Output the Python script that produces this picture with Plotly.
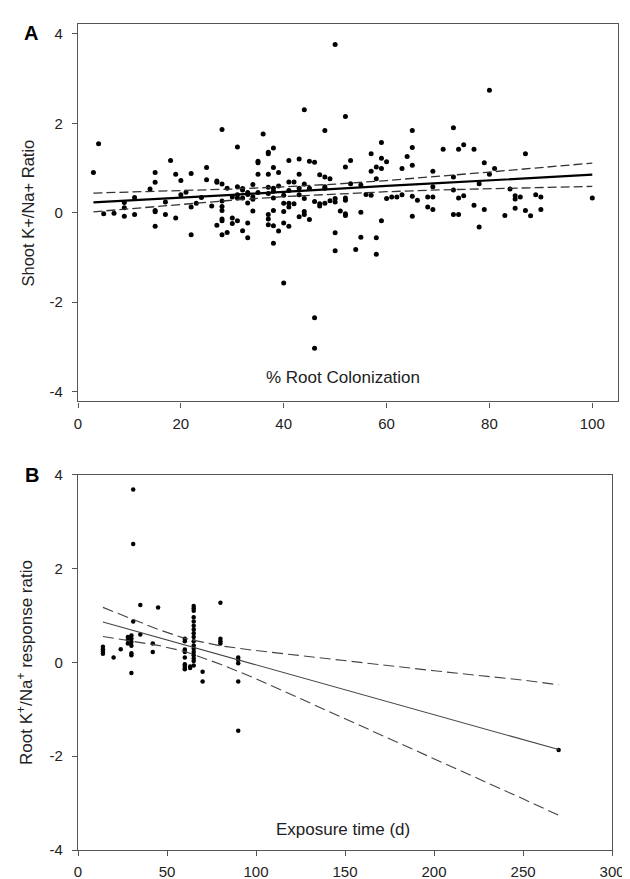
import plotly.graph_objects as go

# ---------------- Panel A data: % root colonization vs shoot K+/Na+ ratio ----------------
colonization = [3, 4, 5, 7, 9, 9, 9, 11, 11, 14, 15, 15, 15, 15, 15, 17, 17, 18, 19, 19,
                20, 20, 21, 22, 22, 22, 23, 24, 25, 25, 26, 27, 27, 27, 28, 28, 28, 28, 28, 28,
                28, 28, 29, 29, 30, 30, 30, 31, 31, 31, 31, 32, 32, 32, 32, 33, 33, 33, 33, 34,
                34, 34, 34, 35, 35, 35, 36, 37, 37, 37, 37, 37, 37, 37, 37, 38, 38, 38, 38, 38,
                38, 38, 39, 39, 39, 40, 40, 40, 40, 40, 41, 41, 41, 41, 41, 42, 42, 43, 43, 43,
                43, 43, 44, 44, 44, 44, 44, 45, 45, 46, 46, 46, 46, 47, 47, 47, 48, 48, 48, 48,
                49, 49, 50, 50, 50, 50, 50, 51, 52, 52, 52, 52, 52, 52, 53, 53, 54, 55, 55, 56,
                57, 57, 57, 58, 58, 58, 58, 59, 59, 59, 59, 60, 60, 61, 63, 63, 64, 65, 65, 65,
                65, 65, 66, 68, 68, 69, 69, 69, 69, 71, 73, 73, 73, 73, 74, 74, 74, 75, 75, 77,
                77, 78, 78, 79, 79, 80, 80, 81, 83, 84, 85, 85, 85, 86, 87, 87, 88, 89, 90, 90,
                100, 31, 33, 35, 38, 41, 45, 48, 55, 62]
shoot_ratio = [0.90, 1.54, -0.02, -0.01, 0.23, 0.11, -0.08, 0.34, -0.04, 0.53, 0.90, 0.68, 0.05, 0.02, -0.30, 0.24, -0.04, 1.17, 0.86, -0.12,
               0.72, 0.40, 0.46, 0.88, 0.13, -0.49, 0.21, 0.34, 1.01, 0.74, 0.15, 0.71, 0.68, -0.28, 1.86, 0.64, 0.26, 0.14, 0.05, -0.14,
               -0.18, -0.49, 0.55, -0.44, 0.35, -0.12, -0.24, 1.47, 0.58, 0.33, -0.18, 0.54, 0.51, 0.33, -0.40, 0.41, 0.22, -0.23, -0.56, 0.63,
               0.36, 0.30, 0.04, 1.15, 1.12, 0.86, 1.76, 1.35, 1.32, 0.86, 0.57, 0.43, -0.04, -0.14, -0.27, 1.45, 1.01, 0.55, 0.33, 0.05,
               -0.29, -0.68, 0.90, 0.60, -0.41, 0.39, 0.21, 0.03, -0.23, -1.57, 1.17, 0.69, 0.21, 0.13, -0.30, 0.69, 0.20, 1.20, 0.86, 0.55,
               0.40, -0.09, 2.30, 0.64, 0.32, 0.03, -0.04, 1.15, -0.15, 1.13, 0.25, -2.35, -3.03, 0.85, 0.20, 0.15, 1.84, 0.80, 0.55, 0.21,
               0.76, 0.27, 3.76, 0.32, 0.24, -0.45, -0.85, 0.04, 2.15, 1.02, 0.33, 0.28, -0.02, -0.06, 1.17, 0.65, -0.82, 0.01, -0.55, 0.41,
               1.32, 0.93, 0.39, 1.02, 0.76, -0.56, -0.93, 1.57, 1.22, 0.99, -0.18, 1.14, 0.32, 0.35, 0.99, 0.40, 1.26, 1.84, 1.46, 1.06,
               0.37, -0.08, 0.28, 0.35, 0.13, 0.93, 0.58, 0.35, 0.07, 1.42, 1.90, 0.80, 0.51, -0.04, 1.42, 0.33, -0.04, 1.52, 0.38, 1.42,
               0.17, 0.65, -0.32, 1.12, 0.07, 2.74, 0.86, 0.99, -0.06, 0.53, 0.38, 0.31, 0.10, 0.35, 1.32, 0.05, -0.07, 0.40, 0.35, 0.07,
               0.33, 0.40, 0.45, 0.45, 0.48, 0.50, 0.55, 0.58, 0.62, 0.35]

# Regression line and 95% confidence band
fitA_x = [3, 10, 20, 30, 40, 50, 60, 70, 80, 90, 100]
fitA_y = [0.23, 0.28, 0.34, 0.40, 0.47, 0.53, 0.60, 0.66, 0.72, 0.79, 0.85]
upA_y = [0.44, 0.46, 0.49, 0.53, 0.58, 0.64, 0.72, 0.81, 0.91, 1.01, 1.11]
loA_y = [0.02, 0.09, 0.19, 0.28, 0.36, 0.42, 0.47, 0.51, 0.54, 0.57, 0.59]

# ---------------- Panel B data: exposure time vs root K+/Na+ response ratio ----------------
exposure = ([14] * 4 + [20] + [24] + [28] * 3 + [30] * 7 + [31] * 3 + [35] * 2 + [42] * 2 + [45]
            + [60] * 9 + [63] * 2 + [65] * 17 + [70] * 2 + [80] * 4 + [90] * 5 + [270])
root_ratio = [0.33, 0.28, 0.23, 0.18,
              0.10,
              0.28,
              0.54, 0.48, 0.40,
              0.57, 0.50, 0.43, 0.35, 0.19, 0.15, -0.23,
              3.68, 2.52, 0.87,
              1.22, 0.59,
              0.40, 0.22,
              1.17,
              0.50, 0.45, 0.27, 0.22, 0.10, -0.04, -0.08, -0.12, -0.15,
              -0.09, -0.12,
              1.20, 1.15, 1.10, 0.96, 0.87, 0.78, 0.70, 0.62, 0.54, 0.45, 0.36, 0.29, 0.22, 0.15, 0.08, 0.03, -0.07,
              -0.20, -0.41,
              1.27, 0.50, 0.45, 0.40,
              0.10, 0.05, -0.02, -0.41, -1.46,
              -1.87]

fitB_x = [14, 30, 45, 60, 80, 100, 150, 200, 250, 270]
fitB_y = [0.86, 0.69, 0.53, 0.37, 0.16, -0.05, -0.59, -1.12, -1.65, -1.86]
upB_y = [1.17, 0.93, 0.70, 0.51, 0.35, 0.25, 0.03, -0.18, -0.38, -0.48]
loB_y = [0.55, 0.45, 0.36, 0.23, -0.04, -0.35, -1.20, -2.05, -2.91, -3.26]

tickA_x = [0, 20, 40, 60, 80, 100]
tickB_x = [0, 50, 100, 150, 200, 250, 300]
tick_y = [-4, -2, 0, 2, 4]
tick_y_text = ["-4", "-2", "0", "2", "4"]

FONT = "Liberation Sans, Arial, sans-serif"
AXC = "#555555"
TXT = "#222222"

fig = go.Figure()

# Panel A
fig.add_trace(go.Scatter(x=colonization, y=shoot_ratio, mode="markers",
                         marker=dict(size=5, color="black"), xaxis="x", yaxis="y", showlegend=False))
fig.add_trace(go.Scatter(x=fitA_x, y=upA_y, mode="lines", line=dict(color="#333333", width=1.3, dash="9px,4px"),
                         xaxis="x", yaxis="y", showlegend=False))
fig.add_trace(go.Scatter(x=fitA_x, y=loA_y, mode="lines", line=dict(color="#333333", width=1.3, dash="9px,4px"),
                         xaxis="x", yaxis="y", showlegend=False))
fig.add_trace(go.Scatter(x=fitA_x, y=fitA_y, mode="lines", line=dict(color="black", width=2.2),
                         xaxis="x", yaxis="y", showlegend=False))

# Panel B
fig.add_trace(go.Scatter(x=exposure, y=root_ratio, mode="markers",
                         marker=dict(size=4.5, color="black"), xaxis="x2", yaxis="y2", showlegend=False))
fig.add_trace(go.Scatter(x=fitB_x, y=upB_y, mode="lines", line=dict(color="#444444", width=1.1, dash="11px,5px"),
                         xaxis="x2", yaxis="y2", showlegend=False))
fig.add_trace(go.Scatter(x=fitB_x, y=loB_y, mode="lines", line=dict(color="#444444", width=1.1, dash="11px,5px"),
                         xaxis="x2", yaxis="y2", showlegend=False))
fig.add_trace(go.Scatter(x=fitB_x, y=fitB_y, mode="lines", line=dict(color="#444444", width=1.1),
                         xaxis="x2", yaxis="y2", showlegend=False))

axis_common = dict(showgrid=False, zeroline=False, showline=True, linecolor=AXC, linewidth=1.3,
                   mirror=True, ticks="outside", ticklen=5, tickcolor=AXC, tickwidth=1.2,
                   tickfont=dict(family=FONT, size=15, color=TXT))

fig.update_layout(
    width=630, height=879,
    margin=dict(l=70, r=12, t=7, b=36),
    paper_bgcolor="white", plot_bgcolor="white",
    font=dict(family=FONT, color=TXT),
    xaxis=dict(domain=[0, 1], range=[0, 105], tickvals=tickA_x, anchor="y",
               ticklabelstandoff=3, **axis_common),
    yaxis=dict(domain=[0.543, 1], range=[-4.22, 4.22], tickvals=tick_y, ticktext=tick_y_text,
               anchor="x", ticklabelstandoff=6, **axis_common),
    xaxis2=dict(domain=[0, 0.989], range=[0, 300], tickvals=tickB_x, anchor="y2",
                ticklabelstandoff=3, **axis_common),
    yaxis2=dict(domain=[0, 0.4545], range=[-4, 4], tickvals=tick_y, ticktext=tick_y_text,
                anchor="x2", ticklabelstandoff=6, **axis_common),
    annotations=[
        dict(text="<b>A</b>", xref="paper", yref="y domain", x=-0.087, y=0.975,
             xanchor="center", yanchor="middle", showarrow=False,
             font=dict(family=FONT, size=20, color="black")),
        dict(text="<b>B</b>", xref="paper", yref="y2 domain", x=-0.085, y=1.0,
             xanchor="center", yanchor="middle", showarrow=False,
             font=dict(family=FONT, size=20, color="black")),
        dict(text="Shoot K+/Na+ Ratio", xref="paper", yref="y domain", x=-0.093, y=0.5,
             textangle=-90, xanchor="center", yanchor="middle", showarrow=False,
             font=dict(family=FONT, size=16.5, color=TXT)),
        dict(text="Root K<sup>+</sup>/Na<sup>+</sup> response ratio", xref="paper", yref="y2 domain",
             x=-0.097, y=0.5, textangle=-90, xanchor="center", yanchor="middle", showarrow=False,
             font=dict(family=FONT, size=17, color=TXT)),
        dict(text="% Root Colonization", xref="x domain", yref="y domain", x=0.491, y=0.063,
             xanchor="center", yanchor="middle", showarrow=False,
             font=dict(family=FONT, size=17, color=TXT)),
        dict(text="Exposure time (d)", xref="x2 domain", yref="y2 domain", x=0.496, y=0.055,
             xanchor="center", yanchor="middle", showarrow=False,
             font=dict(family=FONT, size=17, color=TXT)),
    ],
)

fig.write_html("out.html")
